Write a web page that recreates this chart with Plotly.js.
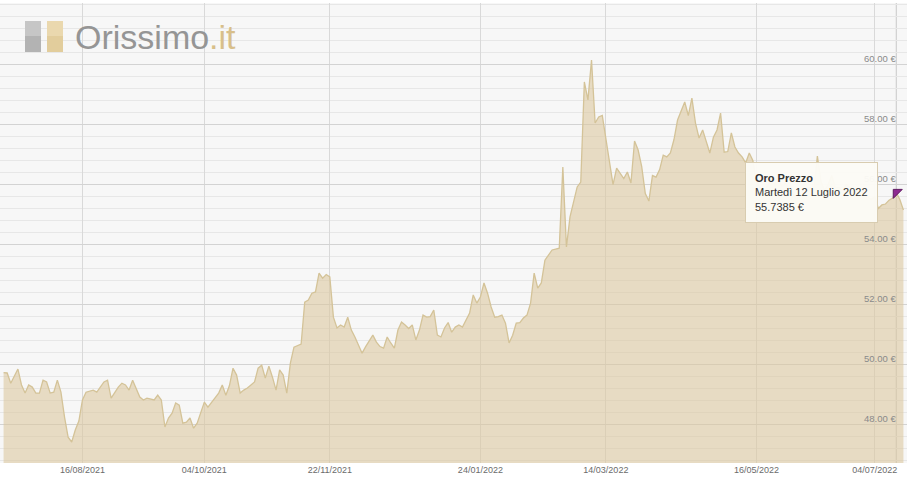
<!DOCTYPE html>
<html>
<head>
<meta charset="utf-8">
<script src="https://cdn.plot.ly/plotly-3.0.1.min.js"></script>
<style>html,body{margin:0;padding:0;background:#fff;}#chart{width:914px;height:490px;}</style>
</head>
<body>
<div id="chart"></div>
<script>
// Trading days (London fix calendar) and gold price in EUR per gram
const dates = [
"2021-07-15","2021-07-16","2021-07-19","2021-07-21","2021-07-22","2021-07-23","2021-07-26","2021-07-27","2021-07-28","2021-07-29",
"2021-07-30","2021-08-02","2021-08-03","2021-08-04","2021-08-05","2021-08-06","2021-08-09","2021-08-10","2021-08-11","2021-08-12",
"2021-08-13","2021-08-16","2021-08-17","2021-08-19","2021-08-20","2021-08-24","2021-08-25","2021-08-26","2021-08-31","2021-09-01",
"2021-09-02","2021-09-03","2021-09-06","2021-09-07","2021-09-08","2021-09-09","2021-09-10","2021-09-14","2021-09-15","2021-09-16",
"2021-09-17","2021-09-20","2021-09-21","2021-09-22","2021-09-23","2021-09-24","2021-09-27","2021-09-28","2021-09-29","2021-09-30",
"2021-10-01","2021-10-04","2021-10-05","2021-10-06","2021-10-07","2021-10-08","2021-10-11","2021-10-12","2021-10-13","2021-10-14",
"2021-10-15","2021-10-18","2021-10-19","2021-10-20","2021-10-21","2021-10-22","2021-10-25","2021-10-26","2021-10-27","2021-10-28",
"2021-10-29","2021-11-01","2021-11-02","2021-11-03","2021-11-04","2021-11-05","2021-11-08","2021-11-09","2021-11-10","2021-11-11",
"2021-11-12","2021-11-15","2021-11-16","2021-11-17","2021-11-18","2021-11-19","2021-11-22","2021-11-23","2021-11-24","2021-11-25",
"2021-11-26","2021-11-29","2021-11-30","2021-12-01","2021-12-02","2021-12-03","2021-12-06","2021-12-07","2021-12-08","2021-12-09",
"2021-12-10","2021-12-13","2021-12-14","2021-12-15","2021-12-16","2021-12-17","2021-12-20","2021-12-21","2021-12-22","2021-12-23",
"2021-12-24","2021-12-29","2021-12-30","2021-12-31","2022-01-04","2022-01-05","2022-01-06","2022-01-07","2022-01-10","2022-01-11",
"2022-01-12","2022-01-13","2022-01-14","2022-01-17","2022-01-18","2022-01-19","2022-01-20","2022-01-21","2022-01-24","2022-01-25",
"2022-01-26","2022-01-27","2022-01-28","2022-01-31","2022-02-01","2022-02-02","2022-02-03","2022-02-04","2022-02-07","2022-02-08",
"2022-02-09","2022-02-10","2022-02-11","2022-02-14","2022-02-15","2022-02-16","2022-02-17","2022-02-18","2022-02-21","2022-02-22",
"2022-02-23","2022-02-24","2022-02-25","2022-02-28","2022-03-01","2022-03-02","2022-03-03","2022-03-04","2022-03-07","2022-03-08",
"2022-03-09","2022-03-10","2022-03-11","2022-03-14","2022-03-15","2022-03-16","2022-03-17","2022-03-18","2022-03-21","2022-03-22",
"2022-03-23","2022-03-24","2022-03-25","2022-03-28","2022-03-29","2022-03-30","2022-03-31","2022-04-01","2022-04-04","2022-04-05",
"2022-04-06","2022-04-07","2022-04-08","2022-04-11","2022-04-12","2022-04-13","2022-04-14","2022-04-19","2022-04-20","2022-04-21",
"2022-04-22","2022-04-25","2022-04-26","2022-04-27","2022-04-28","2022-04-29","2022-05-03","2022-05-04","2022-05-05","2022-05-06",
"2022-05-09","2022-05-10","2022-05-11","2022-05-12","2022-05-13","2022-05-16","2022-05-17","2022-05-18","2022-05-19","2022-05-20",
"2022-05-23","2022-05-24","2022-05-25","2022-05-26","2022-05-27","2022-05-30","2022-05-31","2022-06-01","2022-06-06","2022-06-07",
"2022-06-08","2022-06-09","2022-06-10","2022-06-13","2022-06-14","2022-06-15","2022-06-16","2022-06-17","2022-06-20","2022-06-21",
"2022-06-22","2022-06-23","2022-06-24","2022-06-27","2022-06-28","2022-06-29","2022-06-30","2022-07-01","2022-07-04","2022-07-05",
"2022-07-06","2022-07-07","2022-07-08","2022-07-11","2022-07-12","2022-07-13","2022-07-14"
];
const prices = [
49.73,49.72,49.38,49.85,49.32,49.05,49.32,49.25,49.05,49.05,
49.48,49.42,49.05,49.08,49.48,49.08,48.25,47.58,47.42,47.82,
48.12,48.82,49.08,49.15,49.08,49.42,49.48,48.88,49.25,49.38,
49.32,49.15,49.48,49.22,48.92,48.82,48.88,48.82,48.98,48.82,
47.92,48.22,48.38,48.72,48.65,48.05,48.08,48.22,47.88,48.05,
48.38,48.75,48.58,48.75,48.88,49.05,49.32,48.98,49.30,49.88,
49.65,49.05,49.15,49.22,49.32,49.42,49.88,49.98,49.55,49.95,
49.58,49.15,49.82,49.65,49.05,50.05,50.58,50.62,50.68,52.08,
52.15,52.38,52.42,53.05,52.88,53.00,52.92,51.58,51.22,51.32,
51.25,51.58,51.15,50.92,50.65,50.38,50.60,50.80,50.98,50.75,
50.60,50.55,50.92,50.72,50.55,51.15,51.42,51.32,51.20,51.32,
50.82,51.15,51.65,51.58,51.60,51.82,50.98,50.92,51.22,51.40,
51.08,51.25,51.32,51.25,51.50,51.72,52.32,52.05,52.25,52.72,
52.38,51.92,51.58,51.60,51.65,51.38,50.72,50.98,51.38,51.40,
51.55,51.65,52.05,53.05,52.55,52.72,53.48,53.65,53.82,53.85,
53.88,56.58,53.92,54.92,55.48,55.92,56.08,59.42,58.82,60.15,
58.05,58.25,58.30,57.48,56.70,56.00,56.55,56.38,56.20,56.42,
56.05,57.45,57.15,56.60,55.70,55.45,56.30,56.25,56.50,56.98,
56.92,57.05,57.50,58.15,58.45,58.75,58.30,58.88,58.05,57.55,
57.82,57.40,57.05,57.58,57.82,58.38,57.08,57.10,57.72,57.25,
57.05,56.92,56.72,57.05,56.80,56.10,55.90,55.70,55.95,56.10,
56.00,56.30,55.95,56.05,55.90,55.80,55.50,55.60,55.60,55.90,
55.90,55.80,56.95,56.10,55.80,56.00,56.30,55.90,55.90,55.80,
56.00,55.90,55.80,55.60,55.70,55.80,55.60,55.50,55.60,55.20,
55.32,55.35,55.48,55.55,55.7385,55.50,55.15
];
const holidays = ["2021-08-30","2021-12-27","2021-12-28","2022-01-03","2022-04-15","2022-04-18","2022-05-02","2022-06-02","2022-06-03"];
const tickDates = ["2021-08-16","2021-10-04","2021-11-22","2022-01-24","2022-03-14","2022-05-16","2022-07-04"];
const tickLabels = ["16/08/2021","04/10/2021","22/11/2021","24/01/2022","14/03/2022","16/05/2022","04/07/2022"];
const yTickVals = [48, 50, 52, 54, 56, 58, 60];
const yTickLabels = ["48.00 €","50.00 €","52.00 €","54.00 €","56.00 €","58.00 €","60.00 €"];
const hoverDate = "2022-07-12";
const hoverValue = 55.7385;
const seriesName = "Oro Prezzo";
const hoverLabel = "Martedì 12 Luglio 2022";

const traces = [
  {
    x: dates, y: prices, type: "scatter", mode: "lines",
    fill: "tozeroy", fillcolor: "rgba(220,200,160,0.6)",
    line: {color: "rgb(212,195,152)", width: 1.3},
    hoverinfo: "skip", showlegend: false
  },
  {
    x: [hoverDate], y: [hoverValue], type: "scatter", mode: "markers",
    marker: {symbol: "triangle-nw", size: 10, color: "#8e2a90", line: {color: "#5e1a60", width: 1}},
    hoverinfo: "skip", showlegend: false
  }
];

const W = 907, T = 3, B = 463, H = B - T;
const px = v => v / W;
const py = v => (B - v) / H;

const layout = {
  width: 914, height: 490,
  margin: {l: 0, r: 7, t: 3, b: 27},
  paper_bgcolor: "#ffffff",
  plot_bgcolor: "#f7f7f7",
  hovermode: false,
  showlegend: false,
  font: {family: "Liberation Sans, Arial, sans-serif", color: "#666"},
  xaxis: {
    type: "date",
    range: ["2021-07-14", "2022-07-15"],
    rangebreaks: [{bounds: ["sat", "mon"]}, {values: holidays}],
    tickmode: "array", tickvals: tickDates, ticktext: tickLabels,
    showgrid: true, gridcolor: "#d9d9d9", gridwidth: 1,
    zeroline: false, showline: false, ticks: "",
    tickfont: {size: 9, color: "#6b6b6b"}
  },
  yaxis: {
    range: [46.72, 62.05],
    side: "right",
    automargin: false,
    tickmode: "array", tickvals: yTickVals, ticktext: yTickLabels,
    ticklabelposition: "outside",
    ticklabelstandoff: -44,
    ticklabelshift: -6,
    tickfont: {size: 9.5, color: "#8a8a8a"},
    showgrid: true, gridcolor: "#d3d3d3", gridwidth: 1,
    minor: {dtick: 0.4, tick0: 0, showgrid: true, gridcolor: "#e7e7e7", gridwidth: 1},
    zeroline: false, showline: false, ticks: ""
  },
  shapes: [
    {type: "line", xref: "x", yref: "paper", x0: hoverDate, x1: hoverDate, y0: 0, y1: 1,
     line: {color: "#c8c8c8", width: 1}, layer: "below"},
    {type: "rect", xref: "paper", yref: "paper", x0: px(25), x1: px(41), y0: py(52), y1: py(21),
     fillcolor: "#b3b3b3", line: {width: 0}, layer: "above"},
    {type: "rect", xref: "paper", yref: "paper", x0: px(25), x1: px(41), y0: py(36), y1: py(21),
     fillcolor: "#c6c6c6", line: {width: 0}, layer: "above"},
    {type: "rect", xref: "paper", yref: "paper", x0: px(47), x1: px(63), y0: py(52), y1: py(21),
     fillcolor: "#e2cd9c", line: {width: 0}, layer: "above"},
    {type: "rect", xref: "paper", yref: "paper", x0: px(47), x1: px(63), y0: py(36), y1: py(21),
     fillcolor: "#ead8ae", line: {width: 0}, layer: "above"}
  ],
  annotations: [
    {xref: "paper", yref: "paper", x: px(73), y: py(37), xanchor: "left", yanchor: "middle",
     text: "Orissimo<span style='color:#d8bf8a'>.it</span>", showarrow: false,
     font: {family: "Liberation Sans, sans-serif", size: 34, color: "#959595"}},
    {xref: "paper", yref: "paper", x: px(745), y: py(162), xanchor: "left", yanchor: "top",
     align: "left", showarrow: false,
     text: "<b>" + seriesName + "</b><br>" + hoverLabel + "<br>" + hoverValue + " €",
     bgcolor: "rgba(252,251,246,0.96)", bordercolor: "#d8ccb0", borderwidth: 1, borderpad: 9,
     font: {family: "Liberation Sans, Arial, sans-serif", size: 11, color: "#333"}}
  ]
};

Plotly.newPlot("chart", traces, layout, {displayModeBar: false, staticPlot: true});
</script>
</body>
</html>
